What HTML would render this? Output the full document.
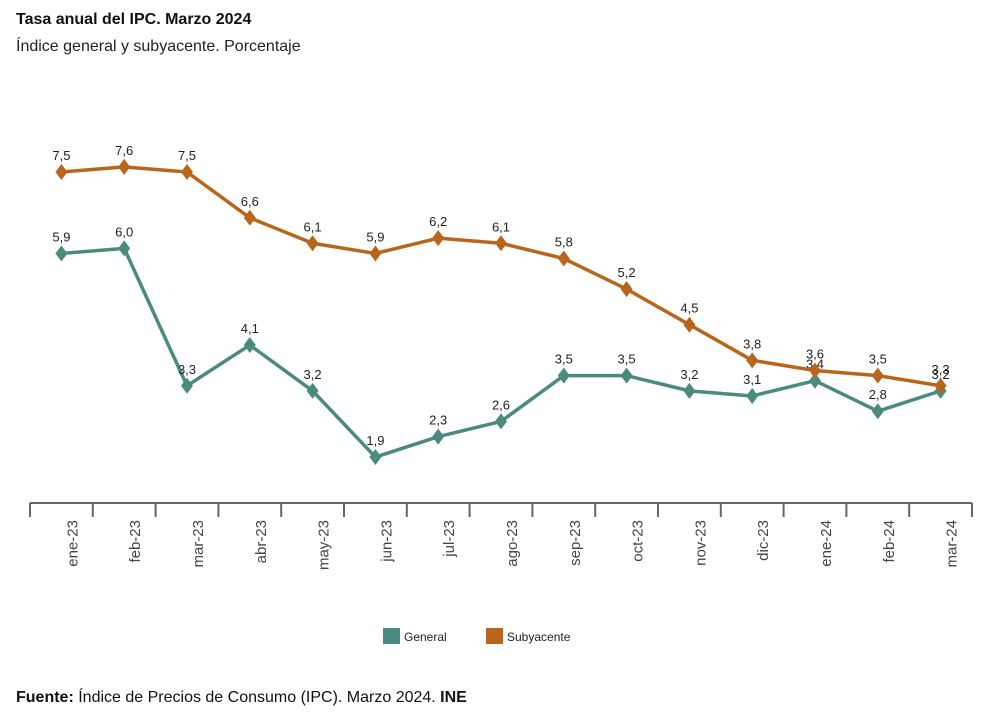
<!DOCTYPE html>
<html><head><meta charset="utf-8"><style>
body{margin:0;background:#fff;width:983px;height:720px;overflow:hidden;font-family:"Liberation Sans",sans-serif}
</style></head><body>
<svg width="983" height="720" xmlns="http://www.w3.org/2000/svg">
<text x="16" y="24" font-size="16" font-weight="bold" fill="#111">Tasa anual del IPC. Marzo 2024</text>
<text x="16" y="51" font-size="16" fill="#222">Índice general y subyacente. Porcentaje</text>
<g id="plot"></g>
<g>
<rect x="383" y="628" width="17" height="16" fill="#4b8a7e"/>
<text x="404" y="641" font-size="12" fill="#222">General</text>
<rect x="486" y="628" width="17" height="16" fill="#b9661c"/>
<text x="507" y="641" font-size="12" fill="#222">Subyacente</text>
</g>
<text x="16" y="702" font-size="16" fill="#111"><tspan font-weight="bold">Fuente:</tspan> Índice de Precios de Consumo (IPC). Marzo 2024. <tspan font-weight="bold">INE</tspan></text>
</svg>
<script>
const categories=["ene-23","feb-23","mar-23","abr-23","may-23","jun-23","jul-23","ago-23","sep-23","oct-23","nov-23","dic-23","ene-24","feb-24","mar-24"];
const general=[5.9,6.0,3.3,4.1,3.2,1.9,2.3,2.6,3.5,3.5,3.2,3.1,3.4,2.8,3.2];
const subyacente=[7.5,7.6,7.5,6.6,6.1,5.9,6.2,6.1,5.8,5.2,4.5,3.8,3.6,3.5,3.3];
const NS="http://www.w3.org/2000/svg";
const g=document.getElementById("plot");
const x0=30,step=62.8;
function xs(i){return x0+step*(i+0.5);}
function ys(v){return 172+(7.5-v)*50.9;}
function mk(t,a){const e=document.createElementNS(NS,t);for(const k in a)e.setAttribute(k,a[k]);g.appendChild(e);return e;}
const ax=mk("path",{d:"M"+x0+" 503H"+(x0+step*categories.length),stroke:"#666","stroke-width":2,fill:"none"});


for(let i=0;i<=categories.length;i++){
 const t=mk("line",{x1:x0+step*i,x2:x0+step*i,y1:503,y2:517,stroke:"#666","stroke-width":2});
 
 
}
categories.forEach((c,i)=>{
 const t=mk("text",{x:0,y:0,"font-size":15,fill:"#444","text-anchor":"end",transform:"translate("+(xs(i)+16)+",520) rotate(-90)"});
 t.textContent=c;
 
 
});
function series(vals,color,name){
 const p=mk("polyline",{points:vals.map((v,i)=>xs(i)+","+ys(v)).join(" "),fill:"none",stroke:color,"stroke-width":3.5,"stroke-linejoin":"round"});
 
 
 vals.forEach((v,i)=>{
  const x=xs(i),y=ys(v);
  const d=mk("path",{d:`M${x} ${y-8}L${x+6} ${y}L${x} ${y+8}L${x-6} ${y}Z`,fill:color});
  
  
  const t=mk("text",{x:x,y:y-12,"font-size":13,fill:"#222","text-anchor":"middle"});
  t.textContent=v.toFixed(1).replace(".",",");
  
  
 });
}
series(general,"#4b8a7e","general");
series(subyacente,"#b9661c","subyacente");
</script>
</body></html>
